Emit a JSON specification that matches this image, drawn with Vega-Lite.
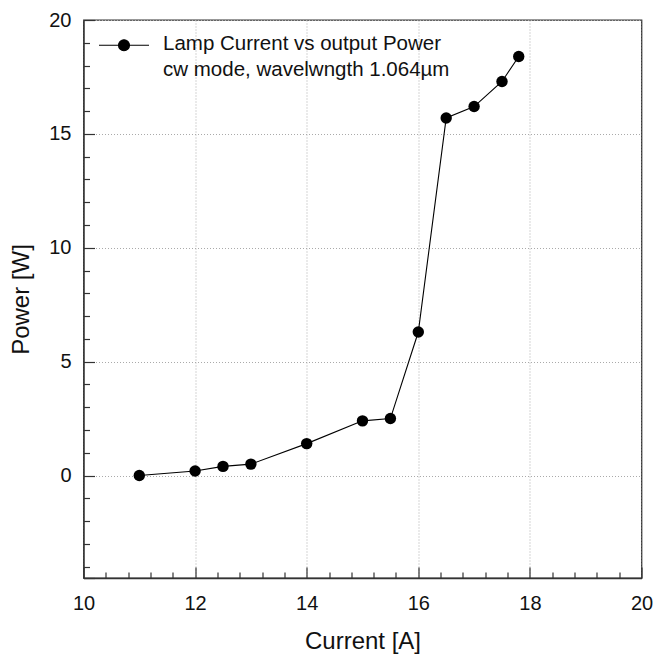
{
  "$schema": "https://vega.github.io/schema/vega-lite/v6.json",
  "width": 558,
  "height": 558,
  "autosize": {"type": "none"},
  "padding": {"left": 83.5, "top": 20, "right": 12.5, "bottom": 77},
  "background": "white",
  "config": {
    "font": "Liberation Sans",
    "view": {"stroke": "#333", "strokeWidth": 1.3},
    "axis": {"labelFont": "Liberation Sans", "titleFont": "Liberation Sans", "labelColor": "#111", "titleColor": "#111", "titleFontWeight": "normal", "domainColor": "#333", "domainWidth": 1.3, "tickColor": "#333", "tickWidth": 1.2}
  },
  "data": {
    "values": [
      {"current": 11.0, "power": 0.0, "series": "s"},
      {"current": 12.0, "power": 0.2, "series": "s"},
      {"current": 12.5, "power": 0.4, "series": "s"},
      {"current": 13.0, "power": 0.5, "series": "s"},
      {"current": 14.0, "power": 1.4, "series": "s"},
      {"current": 15.0, "power": 2.4, "series": "s"},
      {"current": 15.5, "power": 2.5, "series": "s"},
      {"current": 16.0, "power": 6.3, "series": "s"},
      {"current": 16.5, "power": 15.7, "series": "s"},
      {"current": 17.0, "power": 16.2, "series": "s"},
      {"current": 17.5, "power": 17.3, "series": "s"},
      {"current": 17.8, "power": 18.4, "series": "s"}
    ]
  },
  "resolve": {"axis": {"x": "independent", "y": "independent"}},
  "layer": [
    {
      "mark": {"type": "line", "color": "black", "strokeWidth": 1.1},
      "encoding": {
        "x": {"field": "current", "type": "quantitative", "scale": {"domain": [10, 20], "nice": false, "zero": false},
          "axis": {"orient": "bottom", "values": [10, 12, 14, 16, 18, 20], "ticks": false, "grid": true, "gridDash": [1, 2], "gridColor": "#aaa", "gridWidth": 1,
            "labelFontSize": 20, "labelBaseline": "alphabetic", "labelPadding": 31, "labelFlush": false,
            "title": "Current [A]", "titleFontSize": 24, "titleBaseline": "alphabetic", "titleY": 70}},
        "y": {"field": "power", "type": "quantitative", "scale": {"domain": [-4.5, 20], "nice": false, "zero": false},
          "axis": {"orient": "left", "values": [0, 5, 10, 15, 20], "ticks": false, "grid": true, "gridDash": [1, 2], "gridColor": "#aaa", "gridWidth": 1,
            "labelFontSize": 20, "labelPadding": 12.5, "labelFlush": false,
            "title": "Power [W]", "titleFontSize": 24, "titleBaseline": "alphabetic", "titleX": -55.2, "titleAngle": -90}},
        "color": {"field": "series", "type": "nominal", "scale": {"range": ["black"]},
          "legend": {"orient": "none", "legendX": 14.5, "legendY": -0.7, "padding": 0, "title": null,
            "symbolType": "M-1,0H1M-0.22,0A0.22,0.22,0,1,1,0.22,0A0.22,0.22,0,1,1,-0.22,0Z",
            "symbolSize": 2500, "symbolFillColor": "black", "symbolStrokeColor": "black", "symbolStrokeWidth": 1.1,
            "labelFont": "Liberation Sans", "labelFontSize": 20.5, "labelColor": "#111", "labelLimit": 500, "labelOffset": 13, "labelBaseline": "alphabetic",
            "labelExpr": "['Lamp Current vs output Power', 'cw mode, wavelwngth 1.064µm']",
            "encode": {"labels": {"update": {"dy": {"value": 5}, "lineHeight": {"value": 26}}}}}}
      }
    },
    {
      "mark": {"type": "point", "filled": true, "color": "black", "opacity": 1, "size": 130},
      "encoding": {
        "x": {"field": "current", "type": "quantitative",
          "axis": {"orient": "bottom", "values": [10, 12, 14, 16, 18, 20], "ticks": true, "tickSize": -11, "labels": false, "grid": false, "domain": false, "title": null}},
        "y": {"field": "power", "type": "quantitative",
          "axis": {"orient": "left", "values": [-4.5, 0, 5, 10, 15, 20], "ticks": true, "tickSize": -11, "labels": false, "grid": false, "domain": false, "title": null}}
      }
    },
    {
      "mark": {"type": "point", "opacity": 0},
      "encoding": {
        "x": {"field": "current", "type": "quantitative",
          "axis": {"orient": "bottom", "values": [10.4, 10.8, 11.2, 11.6, 12.4, 12.8, 13.2, 13.6, 14.4, 14.8, 15.2, 15.6, 16.4, 16.8, 17.2, 17.6, 18.4, 18.8, 19.2, 19.6], "ticks": true, "tickSize": -6, "labels": false, "grid": false, "domain": false, "title": null}},
        "y": {"field": "power", "type": "quantitative",
          "axis": {"orient": "left", "values": [-4, -3, -2, -1, 1, 2, 3, 4, 6, 7, 8, 9, 11, 12, 13, 14, 16, 17, 18, 19], "ticks": true, "tickSize": -6, "labels": false, "grid": false, "domain": false, "title": null}}
      }
    }
  ]
}
